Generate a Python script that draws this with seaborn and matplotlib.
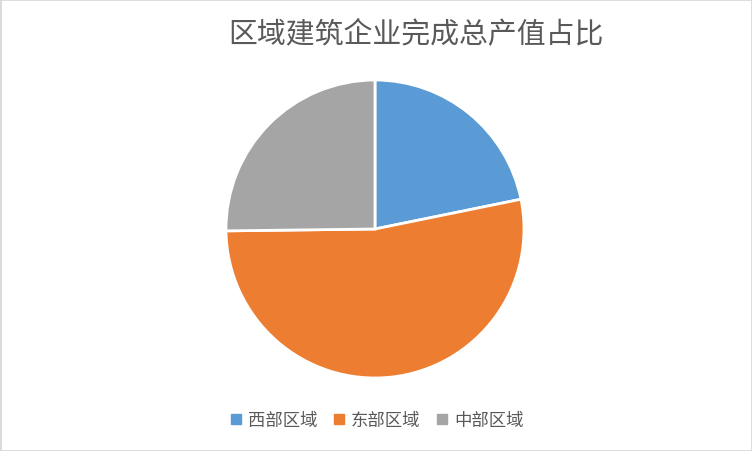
import matplotlib
matplotlib.use('Agg')
import matplotlib.pyplot as plt
import seaborn as sns
from matplotlib.lines import Line2D
from matplotlib.patches import Rectangle

# data
regions = ['西部区域', '东部区域', '中部区域']
shares = [21.8, 53.0, 25.2]
colors = ['#5B9BD5', '#ED7D31', '#A5A5A5']

sns.set_theme(style='white')
plt.rcParams['font.family'] = ['Noto Sans CJK SC', 'DejaVu Sans']

fig = plt.figure(figsize=(7.52, 4.52), dpi=100)
ax = fig.add_axes([0.3005, 0.1615, 0.3963, 0.6593])
pal = sns.color_palette(colors)
ax.pie(shares, colors=pal, startangle=90, counterclock=False,
       radius=1.0, wedgeprops={'edgecolor': 'white', 'linewidth': 2})
ax.set_xlim(-1.0, 1.0)
ax.set_ylim(-1.0, 1.0)
ax.set_aspect('equal')
ax.axis('off')

fig.text(0.553, 0.925, '区域建筑企业完成总产值占比', ha='center', va='center',
         fontsize=20.8, color='#595959', fontweight='light')

handles = [Line2D([0], [0], marker='s', linestyle='', markersize=6.5,
                  markerfacecolor=c, markeredgecolor=c) for c in pal]
fig.legend(handles, regions, loc='center', bbox_to_anchor=(0.501, 0.069),
           ncol=3, frameon=False, fontsize=12.5, handlelength=0.7,
           handletextpad=0.35, columnspacing=0.9, labelcolor='#595959')

fig.patches.append(Rectangle((0, 0), 1, 1, transform=fig.transFigure,
                             fill=False, edgecolor='#D9D9D9', linewidth=2))

fig.savefig('out.png', dpi=100)
